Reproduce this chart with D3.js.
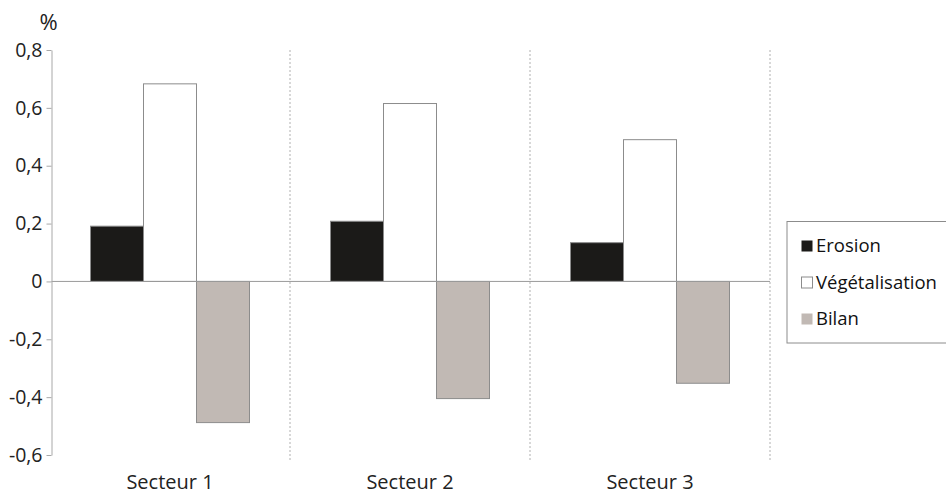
<!DOCTYPE html>
<html><head><meta charset="utf-8">
<script src="https://cdn.jsdelivr.net/npm/d3@7"></script>
<style>body{margin:0;background:#fff;} svg{display:block;font-family:"Open Sans",sans-serif;}</style>
</head><body>
<svg id="c" width="946" height="497"></svg>
<script>
const sectors = ["Secteur 1", "Secteur 2", "Secteur 3"];
const seriesNames = ["Erosion", "Végétalisation", "Bilan"];
const erosion = [0.191, 0.208, 0.134];
const vegetalisation = [0.683, 0.615, 0.49];
const bilan = [-0.488, -0.405, -0.352];
const yTicks = [-0.6, -0.4, -0.2, 0, 0.2, 0.4, 0.6, 0.8];
const colors = ["#1b1a18", "#ffffff", "#c1b9b4"];
const seriesValues = [erosion, vegetalisation, bilan];

const svg = d3.select("#c");
const x = d3.scaleBand().domain(sectors).range([50, 770]);
const xi = d3.scaleBand().domain(seriesNames).range([40.5, 199.5]);
const y = d3.scaleLinear().domain([-0.6, 0.8]).range([455, 50]);
const locale = d3.formatLocale({decimal: ",", thousands: " ", grouping: [3], currency: ["", ""], minus: "-"});
const fmt = v => v === 0 ? "0" : locale.format(".1f")(v);

// dividers
svg.append("g").selectAll("line").data(sectors).join("line")
  .attr("x1", d => x(d) + x.bandwidth()).attr("x2", d => x(d) + x.bandwidth())
  .attr("y1", y(0.8)).attr("y2", 462)
  .attr("stroke", "#b0b0b0").attr("stroke-width", 1).attr("stroke-dasharray", "2,2");

// bars
const g = svg.append("g");
sectors.forEach((s, i) => {
  seriesNames.forEach((n, j) => {
    const v = seriesValues[j][i];
    g.append("rect")
      .attr("x", x(s) + xi(n)).attr("width", xi.bandwidth())
      .attr("y", y(Math.max(0, v))).attr("height", Math.abs(y(v) - y(0)))
      .attr("fill", colors[j]).attr("stroke", "#8c8c8c").attr("stroke-width", 1);
  });
});

// zero line
svg.append("line").attr("x1", 51.5).attr("x2", 770).attr("y1", y(0)).attr("y2", y(0))
  .attr("stroke", "#9a9a9a").attr("stroke-width", 1);

// y axis
const ya = svg.append("g").attr("transform", "translate(51.5,0)")
  .call(d3.axisLeft(y).tickValues(yTicks).tickFormat(fmt).tickSize(5).tickSizeOuter(0));
ya.select(".domain").attr("stroke", "#a8a8a8");
ya.selectAll(".tick line").attr("stroke", "#a8a8a8");
ya.selectAll(".tick text").attr("font-size", 19.5).attr("font-family", "Open Sans")
  .attr("fill", "#222").attr("x", -9);

svg.append("text").attr("x", 48.5).attr("y", 30).attr("text-anchor", "middle")
  .attr("font-size", 22).attr("fill", "#222").text("%");

// x labels
svg.append("g").selectAll("text").data(sectors).join("text")
  .attr("x", d => x(d) + x.bandwidth() / 2).attr("y", 489).attr("text-anchor", "middle")
  .attr("font-size", 20).attr("fill", "#222").text(d => d);

// legend
const lg = svg.append("g");
lg.append("rect").attr("x", 787).attr("y", 221.5).attr("width", 170).attr("height", 121.5)
  .attr("fill", "#fff").attr("stroke", "#8c8c8c").attr("stroke-width", 1);
const ly = d3.scalePoint().domain(seriesNames).range([252, 325]);
seriesNames.forEach((n, j) => {
  lg.append("rect").attr("x", 801.5).attr("y", ly(n) - 11.5).attr("width", 11).attr("height", 11)
    .attr("fill", colors[j]).attr("stroke", j === 1 ? "#8c8c8c" : "none");
  lg.append("text").attr("x", 816).attr("y", ly(n)).attr("font-size", 18.5)
    .attr("fill", "#111").text(n);
});
</script>
</body></html>
